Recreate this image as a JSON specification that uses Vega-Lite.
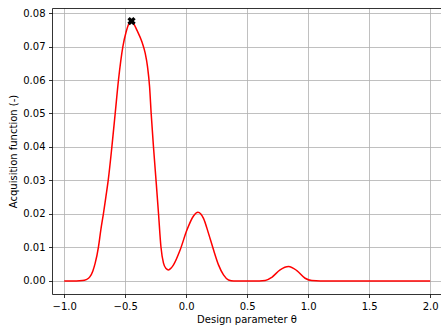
{
  "$schema": "https://vega.github.io/schema/vega-lite/v6.json",
  "width": 389,
  "height": 286,
  "autosize": {"type": "none"},
  "padding": {"left": 52, "top": 8, "right": 0, "bottom": 31},
  "background": "white",
  "config": {
    "view": {"stroke": null},
    "font": "DejaVu Sans",
    "axis": {
      "labelFont": "DejaVu Sans",
      "labelFontSize": 10,
      "labelColor": "#000000",
      "titleFont": "DejaVu Sans",
      "titleFontSize": 10,
      "titleFontWeight": "normal",
      "titleColor": "#000000",
      "tickColor": "#000000",
      "tickSize": 3.5,
      "tickWidth": 0.8,
      "domainColor": "#000000",
      "domainWidth": 0.8,
      "gridColor": "#b0b0b0",
      "gridWidth": 0.8,
      "gridOpacity": 1,
      "labelPadding": 3.5
    }
  },
  "datasets": {
    "curve": [
      {"theta": -1.0, "acq": 0},
      {"theta": -0.9, "acq": 0},
      {"theta": -0.85, "acq": 0.0001},
      {"theta": -0.82, "acq": 0.0004},
      {"theta": -0.79, "acq": 0.0012},
      {"theta": -0.765, "acq": 0.003},
      {"theta": -0.746, "acq": 0.0053},
      {"theta": -0.719, "acq": 0.0102},
      {"theta": -0.7, "acq": 0.0152},
      {"theta": -0.678, "acq": 0.0202},
      {"theta": -0.658, "acq": 0.0252},
      {"theta": -0.639, "acq": 0.0301},
      {"theta": -0.609, "acq": 0.0401},
      {"theta": -0.582, "acq": 0.05},
      {"theta": -0.555, "acq": 0.06},
      {"theta": -0.519, "acq": 0.07},
      {"theta": -0.492, "acq": 0.0744},
      {"theta": -0.47, "acq": 0.0768},
      {"theta": -0.45, "acq": 0.0776},
      {"theta": -0.43, "acq": 0.0768},
      {"theta": -0.404, "acq": 0.0749},
      {"theta": -0.363, "acq": 0.0714},
      {"theta": -0.336, "acq": 0.068},
      {"theta": -0.317, "acq": 0.064},
      {"theta": -0.3, "acq": 0.058},
      {"theta": -0.287, "acq": 0.05},
      {"theta": -0.268, "acq": 0.04},
      {"theta": -0.246, "acq": 0.0295},
      {"theta": -0.227, "acq": 0.0202},
      {"theta": -0.207, "acq": 0.0102},
      {"theta": -0.186, "acq": 0.0053},
      {"theta": -0.165, "acq": 0.0037},
      {"theta": -0.145, "acq": 0.0033},
      {"theta": -0.125, "acq": 0.0038},
      {"theta": -0.104, "acq": 0.0048},
      {"theta": -0.049, "acq": 0.0093},
      {"theta": 0.006, "acq": 0.0152},
      {"theta": 0.06, "acq": 0.0194},
      {"theta": 0.096, "acq": 0.0205},
      {"theta": 0.12, "acq": 0.02},
      {"theta": 0.142, "acq": 0.0187},
      {"theta": 0.183, "acq": 0.0142},
      {"theta": 0.224, "acq": 0.0093},
      {"theta": 0.265, "acq": 0.0048},
      {"theta": 0.306, "acq": 0.0018},
      {"theta": 0.347, "acq": 0.0003},
      {"theta": 0.39, "acq": 0},
      {"theta": 0.6, "acq": 0},
      {"theta": 0.648, "acq": 0.0001},
      {"theta": 0.702, "acq": 0.0011},
      {"theta": 0.77, "acq": 0.0033},
      {"theta": 0.839, "acq": 0.0043},
      {"theta": 0.907, "acq": 0.0031},
      {"theta": 0.975, "acq": 0.0008},
      {"theta": 1.03, "acq": 0.0001},
      {"theta": 1.1, "acq": 0},
      {"theta": 2.0, "acq": 0}
    ],
    "best": [
      {"theta": -0.448, "acq": 0.0776}
    ]
  },
  "resolve": {"axis": {"x": "independent", "y": "independent"}},
  "layer": [
    {
      "data": {"name": "curve"},
      "mark": {"type": "line", "color": "#ff0000", "strokeWidth": 1.5, "interpolate": "monotone", "clip": true},
      "encoding": {
        "x": {
          "field": "theta", "type": "quantitative",
          "scale": {"domain": [-1.1, 2.089], "nice": false, "zero": false},
          "axis": {"values": [-1.0, -0.5, 0.0, 0.5, 1.0, 1.5, 2.0], "format": ".1f", "title": "Design parameter θ", "titlePadding": 3, "domain": true, "grid": true}
        },
        "y": {
          "field": "acq", "type": "quantitative",
          "scale": {"domain": [-0.0039, 0.0815], "nice": false, "zero": false},
          "axis": {"values": [0, 0.01, 0.02, 0.03, 0.04, 0.05, 0.06, 0.07, 0.08], "format": ".2f", "title": "Acquisition function (-)", "titlePadding": 4, "domain": true, "grid": true}
        }
      }
    },
    {
      "data": {"name": "best"},
      "mark": {"type": "point", "shape": "cross", "filled": true, "color": "#000000", "opacity": 1, "size": 70, "angle": 45},
      "encoding": {
        "x": {
          "field": "theta", "type": "quantitative",
          "axis": {"orient": "top", "labels": false, "ticks": false, "grid": false, "title": null, "domain": true}
        },
        "y": {
          "field": "acq", "type": "quantitative",
          "axis": {"orient": "right", "labels": false, "ticks": false, "grid": false, "title": null, "domain": false}
        }
      }
    }
  ]
}
